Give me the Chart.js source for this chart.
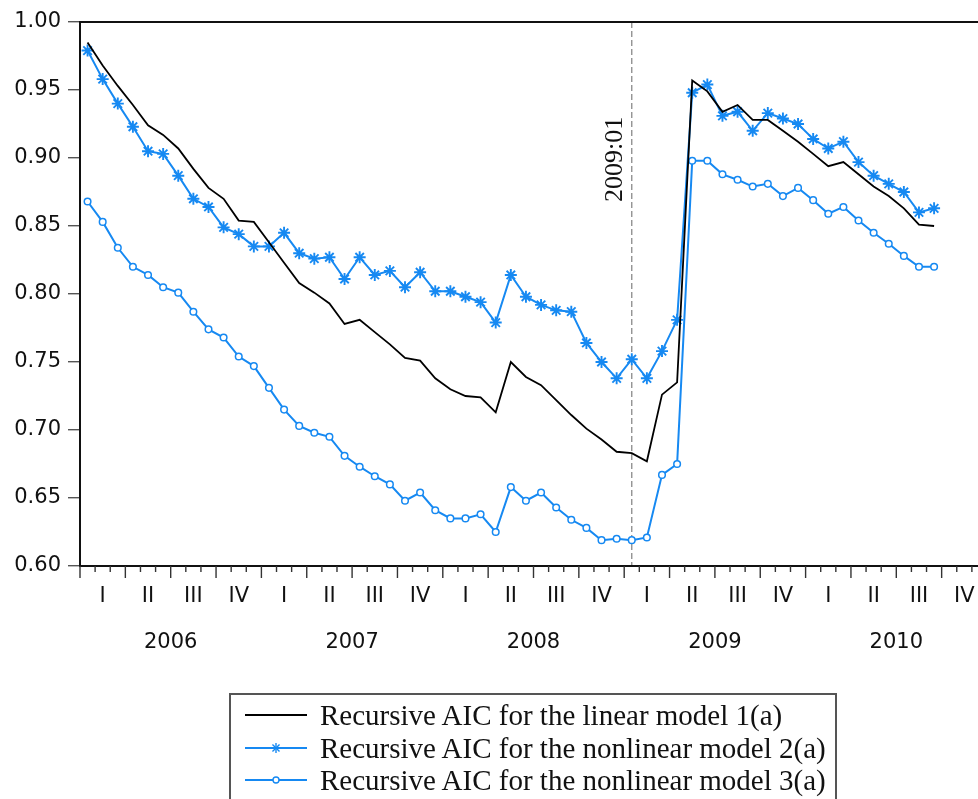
<!DOCTYPE html>
<html>
<head>
<meta charset="utf-8">
<script src="https://cdn.jsdelivr.net/npm/chart.js@4.4.1/dist/chart.umd.min.js"></script>
<style>
    html, body { margin: 0; padding: 0; background: #fff; overflow: hidden; }
    #wrap { position: relative; width: 978px; height: 799px; overflow: hidden; }
    #myChart { position: absolute; left: 0; top: 0; }
    #legend {
        position: absolute; left: 229px; top: 693px; width: 608px; height: 130px;
        border: 2px solid #555; box-sizing: border-box;
        font-family: 'Liberation Serif', 'Times New Roman', serif; font-size: 29px; color: #111;
    }
    #legend .row { position: absolute; left: 0; height: 32px; display: flex; align-items: center; white-space: nowrap; }
    #legend canvas { margin-left: 14px; margin-right: 13px; }
</style>
</head>
<body>
<div id="wrap">
    <canvas id="myChart" width="1000" height="690"></canvas>
    <div id="legend"></div>
</div>
<script>
// data

const years = ['2006', '2007', '2008', '2009', '2010'];
const quarters = ['I', 'II', 'III', 'IV'];
const breakMonth = '2009:01';

const seriesNames = [
    'Recursive AIC for the linear model 1(a)',
    'Recursive AIC for the nonlinear model 2(a)',
    'Recursive AIC for the nonlinear model 3(a)'
];

// 2006:01 .. 2010:09
const aicLinear = [
    0.985, 0.968, 0.953, 0.939, 0.924, 0.917, 0.907, 0.892, 0.878, 0.870,
    0.854, 0.853, 0.838, 0.823, 0.808, 0.801, 0.793, 0.778, 0.781, 0.772,
    0.763, 0.753, 0.751, 0.738, 0.730, 0.725, 0.724, 0.713, 0.750, 0.739,
    0.733, 0.722, 0.711, 0.701, 0.693, 0.684, 0.683, 0.677, 0.726, 0.735,
    0.957, 0.949, 0.934, 0.939, 0.928, 0.928, 0.920, 0.912, 0.903, 0.894,
    0.897, 0.888, 0.879, 0.872, 0.863, 0.851, 0.850
];
const aicModel2 = [
    0.979, 0.958, 0.940, 0.923, 0.905, 0.903, 0.887, 0.870, 0.864, 0.849,
    0.844, 0.835, 0.835, 0.845, 0.830, 0.826, 0.827, 0.811, 0.827, 0.814,
    0.817, 0.805, 0.816, 0.802, 0.802, 0.798, 0.794, 0.779, 0.814, 0.798,
    0.792, 0.788, 0.787, 0.764, 0.750, 0.738, 0.752, 0.738, 0.758, 0.781,
    0.948, 0.954, 0.931, 0.934, 0.920, 0.933, 0.929, 0.925, 0.914, 0.907,
    0.912, 0.897, 0.887, 0.881, 0.875, 0.860, 0.863
];
const aicModel3 = [
    0.868, 0.853, 0.834, 0.820, 0.814, 0.805, 0.801, 0.787, 0.774, 0.768,
    0.754, 0.747, 0.731, 0.715, 0.703, 0.698, 0.695, 0.681, 0.673, 0.666,
    0.660, 0.648, 0.654, 0.641, 0.635, 0.635, 0.638, 0.625, 0.658, 0.648,
    0.654, 0.643, 0.634, 0.628, 0.619, 0.620, 0.619, 0.621, 0.667, 0.675,
    0.898, 0.898, 0.888, 0.884, 0.879, 0.881, 0.872, 0.878, 0.869, 0.859,
    0.864, 0.854, 0.845, 0.837, 0.828, 0.820, 0.820
];

// month slots on the axis (whole years shown)
const months = [];
years.forEach((y) => {
    for (let m = 1; m <= 12; m++) months.push(y + ':' + String(m).padStart(2, '0'));
});

const BLUE = '#1689f2';
const axisFont = { family: "'DejaVu Sans', Arial, sans-serif", size: 21 };

const toPoints = (arr) => arr.map((v, i) => ({ x: i, y: v }));
const quarterCenters = months.map((m, i) => i).filter((i) => i % 3 === 1);
const yearCenters = years.map((y, k) => k * 12 + 5.5);

//plugin: frame, month ticks, 2009:01 marker

const framePlugin = {
    id: 'frame',
    beforeDatasetsDraw(chart) {
        const { ctx, chartArea, scales } = chart;
        const xl = scales.x.getPixelForValue(months.indexOf(breakMonth));
        ctx.save();
        ctx.strokeStyle = '#8a8a8a';
        ctx.lineWidth = 1.3;
        ctx.setLineDash([6, 3]);
        ctx.beginPath();
        ctx.moveTo(xl, chartArea.top);
        ctx.lineTo(xl, chartArea.bottom);
        ctx.stroke();
        ctx.restore();
    },
    afterDraw(chart) {
        const { ctx, chartArea, scales } = chart;
        ctx.save();
        ctx.strokeStyle = '#111';
        ctx.lineWidth = 2;
        ctx.strokeRect(chartArea.left, chartArea.top, chartArea.right - chartArea.left, chartArea.bottom - chartArea.top);

        ctx.strokeStyle = '#333';
        ctx.lineWidth = 1.4;
        for (let m = 0; m <= months.length; m++) {
            const px = scales.x.getPixelForValue(m - 0.5);
            const len = m % 3 === 0 ? 12 : 6;
            ctx.beginPath();
            ctx.moveTo(px, chartArea.bottom);
            ctx.lineTo(px, chartArea.bottom + len);
            ctx.stroke();
        }

        const xl = scales.x.getPixelForValue(months.indexOf(breakMonth));
        ctx.translate(xl - 9.5, chartArea.top + 180);
        ctx.rotate(-Math.PI / 2);
        ctx.fillStyle = '#111';
        ctx.font = "26px 'Liberation Serif', 'Times New Roman', serif";
        ctx.textAlign = 'left';
        ctx.textBaseline = 'alphabetic';
        ctx.fillText(breakMonth, 0, 0);
        ctx.restore();
    }
};

//chart

var ctx = document.getElementById('myChart').getContext('2d');
const chart = new Chart(ctx, {
    type: 'line',
    data: {
        datasets: [{
            label: seriesNames[0],
            data: toPoints(aicLinear),
            borderColor: '#000',
            borderWidth: 1.8,
            pointRadius: 0,
            tension: 0,
        },
        {
            label: seriesNames[1],
            data: toPoints(aicModel2),
            borderColor: BLUE,
            borderWidth: 2,
            pointStyle: 'star',
            pointRadius: 6,
            pointBorderWidth: 1.9,
            pointBorderColor: BLUE,
            pointBackgroundColor: BLUE,
            tension: 0,
        },
        {
            label: seriesNames[2],
            data: toPoints(aicModel3),
            borderColor: BLUE,
            borderWidth: 2,
            pointStyle: 'circle',
            pointRadius: 3.3,
            pointBorderWidth: 1.5,
            pointBorderColor: BLUE,
            pointBackgroundColor: '#fff',
            tension: 0,
        }]
    },
    options: {
        responsive: false,
        animation: false,
        layout: { padding: { top: 22, right: 13, left: 0, bottom: 0 } },
        plugins: {
            legend: { display: false },
            tooltip: { enabled: false }
        },
        scales: {
            x: {
                type: 'linear',
                position: 'bottom',
                min: -0.5,
                max: months.length - 0.5,
                weight: 0,
                afterFit: (s) => { s.height = 40; },
                afterBuildTicks: (s) => { s.ticks = quarterCenters.map((v) => ({ value: v })); },
                ticks: {
                    autoSkip: false, maxRotation: 0, minRotation: 0, padding: 10,
                    color: '#111', font: axisFont,
                    callback: (v) => quarters[Math.round((v - 1) / 3) % 4]
                },
                grid: { display: false },
                border: { display: false }
            },
            x2: {
                type: 'linear',
                axis: 'x',
                position: 'bottom',
                min: -0.5,
                max: months.length - 0.5,
                weight: 1,
                afterFit: (s) => { s.height = 84; },
                afterBuildTicks: (s) => { s.ticks = yearCenters.map((v) => ({ value: v })); },
                ticks: {
                    autoSkip: false, maxRotation: 0, minRotation: 0, padding: 16,
                    color: '#111', font: axisFont,
                    callback: (v) => years[Math.round((v - 5.5) / 12)]
                },
                grid: { display: false },
                border: { display: false }
            },
            y: {
                min: 0.6,
                max: 1.0,
                afterFit: (s) => { s.width = 80; },
                ticks: {
                    stepSize: 0.05, padding: 7, color: '#111', font: axisFont,
                    callback: (v) => Number(v).toFixed(2)
                },
                grid: { drawOnChartArea: false, tickLength: 12, color: '#555', lineWidth: 1.4 },
                border: { display: false }
            }
        }
    },
    plugins: [framePlugin]
});

//legend (html, boxed like the original)

const legend = document.getElementById('legend');
const rowTops = [4, 37, 69];
chart.data.datasets.forEach((ds, i) => {
    const row = document.createElement('div');
    row.className = 'row';
    row.style.top = rowTops[i] + 'px';
    const c = document.createElement('canvas');
    c.width = 62;
    c.height = 16;
    const g = c.getContext('2d');
    g.strokeStyle = ds.borderColor;
    g.lineWidth = ds.borderWidth;
    g.beginPath();
    g.moveTo(0, 8);
    g.lineTo(62, 8);
    g.stroke();
    if (ds.pointStyle === 'star') {
        g.lineWidth = 1.4;
        for (let a = 0; a < 4; a++) {
            const ang = a * Math.PI / 4;
            g.beginPath();
            g.moveTo(31 - 5 * Math.cos(ang), 8 - 5 * Math.sin(ang));
            g.lineTo(31 + 5 * Math.cos(ang), 8 + 5 * Math.sin(ang));
            g.stroke();
        }
    } else if (ds.pointStyle === 'circle') {
        g.fillStyle = '#fff';
        g.lineWidth = 1.4;
        g.beginPath();
        g.arc(31, 8, 3, 0, Math.PI * 2);
        g.fill();
        g.stroke();
    }
    const t = document.createElement('span');
    t.textContent = ds.label;
    row.appendChild(c);
    row.appendChild(t);
    legend.appendChild(row);
});
</script>
</body>
</html>
